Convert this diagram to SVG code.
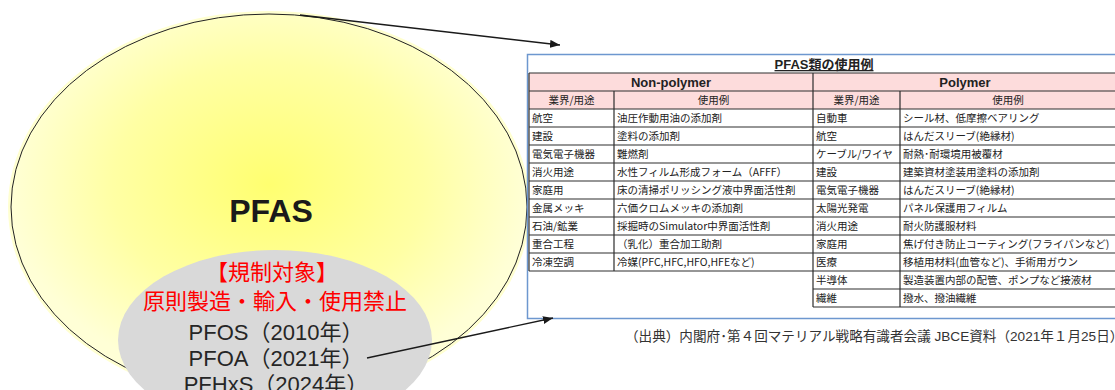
<svg xmlns="http://www.w3.org/2000/svg" width="1115" height="390" viewBox="0 0 1115 390">
<defs>
<radialGradient id="yel" cx="269" cy="185" r="260" gradientUnits="userSpaceOnUse" gradientTransform="translate(269 185) scale(1 0.78) translate(-269 -185)">
<stop offset="0" stop-color="#ffff70"/>
<stop offset="0.6" stop-color="#ffffa4"/>
<stop offset="1" stop-color="#ffffd6"/>
</radialGradient>
<marker id="arr" viewBox="0 0 10 8" refX="10" refY="4" markerWidth="10" markerHeight="8" markerUnits="userSpaceOnUse" orient="auto">
<path d="M0,0 L10,4 L0,8 z" fill="#1a1a1a"/>
</marker>
<style>
.cell{font-family:"Noto Sans CJK JP","Liberation Sans",sans-serif;font-size:10.5px;fill:#222}
.hd{font-family:"Noto Sans CJK JP","Liberation Sans",sans-serif;font-size:10.5px;fill:#222;text-anchor:middle}
.hb{font-family:"Liberation Sans","Noto Sans CJK JP",sans-serif;font-size:13px;font-weight:bold;fill:#222;text-anchor:middle}
.grid{stroke:#2e2e2e;stroke-width:1.2;fill:none}
.red{font-family:"Noto Sans CJK JP",sans-serif;font-size:22px;fill:#ff0000;text-anchor:middle}
.blk{font-family:"Liberation Sans","Noto Sans CJK JP",sans-serif;font-size:22px;fill:#262626;text-anchor:middle}
.cap{font-family:"Liberation Sans","Noto Sans CJK JP",sans-serif;font-size:13.6px;fill:#333}
.conn{stroke:#1a1a1a;stroke-width:1.3;fill:none}
</style>
</defs>
<rect width="1115" height="390" fill="#ffffff"/>

<g id="node-pfas">
<ellipse cx="269" cy="207" rx="261" ry="196" fill="#ffffd0"/>
<ellipse cx="269" cy="207" rx="258" ry="193" fill="url(#yel)" stroke="#222" stroke-width="1"/>
<text x="271" y="222" font-family="Liberation Sans, sans-serif" font-size="32" font-weight="bold" fill="#1a1a1a" text-anchor="middle">PFAS</text>
</g>

<g id="node-regulated">
<ellipse cx="275" cy="340" rx="157" ry="90" fill="#d9d9d9"/>
<text class="red" x="272" y="280">【規制対象】</text>
<text class="red" x="275" y="309">原則製造・輸入・使用禁止</text>
<text class="blk" x="276" y="340">PFOS（2010年）</text>
<text class="blk" x="276" y="366">PFOA（2021年）</text>
<text class="blk" x="276" y="392">PFHxS（2024年）</text>
</g>

<g id="node-table">
<rect x="527.5" y="54.5" width="600" height="264" fill="#ffffff" stroke="#6d97cf" stroke-width="1.5"/>
<text x="824" y="69" font-family="Liberation Sans, Noto Sans CJK JP, sans-serif" font-size="13" font-weight="bold" fill="#222" text-anchor="middle" text-decoration="underline">PFAS類の使用例</text>
<rect x="529" y="73" width="590" height="36" fill="#fddcdc"/>
<path class="grid" d="M529,73 H1120 M529,91 H1120 M529,109 H1120 M529,127 H1120 M529,145 H1120 M529,163 H1120 M529,181 H1120 M529,199 H1120 M529,217 H1120 M529,235 H1120 M529,253 H1120 M529,271 H1120 M813,289 H1120 M813,307 H1120 M529,73 V271 M614,91 V271 M813,73 V307 M900,91 V307"/>
<text class="hb" x="671" y="86.5">Non-polymer</text>
<text class="hb" x="965" y="86.5">Polymer</text>
<text class="hd" x="571.5" y="104">業界/用途</text>
<text class="hd" x="713.5" y="104">使用例</text>
<text class="hd" x="856.5" y="104">業界/用途</text>
<text class="hd" x="1008" y="104">使用例</text>
<g class="cell">
<text x="532" y="122">航空</text><text x="617" y="122">油圧作動用油の添加剤</text>
<text x="532" y="140">建設</text><text x="617" y="140">塗料の添加剤</text>
<text x="532" y="158">電気電子機器</text><text x="617" y="158">難燃剤</text>
<text x="532" y="176">消火用途</text><text x="617" y="176">水性フィルム形成フォーム（AFFF）</text>
<text x="532" y="194">家庭用</text><text x="617" y="194">床の清掃ポリッシング液中界面活性剤</text>
<text x="532" y="212">金属メッキ</text><text x="617" y="212">六価クロムメッキの添加剤</text>
<text x="532" y="230">石油/鉱業</text><text x="617" y="230">採掘時のSimulator中界面活性剤</text>
<text x="532" y="248">重合工程</text><text x="617" y="248">（乳化）重合加工助剤</text>
<text x="532" y="266">冷凍空調</text><text x="617" y="266">冷媒(PFC,HFC,HFO,HFEなど)</text>
<text x="816" y="122">自動車</text><text x="903" y="122">シール材、低摩擦ベアリング</text>
<text x="816" y="140">航空</text><text x="903" y="140">はんだスリーブ(絶縁材)</text>
<text x="816" y="158">ケーブル/ワイヤ</text><text x="903" y="158">耐熱･耐環境用被覆材</text>
<text x="816" y="176">建設</text><text x="903" y="176">建築資材塗装用塗料の添加剤</text>
<text x="816" y="194">電気電子機器</text><text x="903" y="194">はんだスリーブ(絶縁材)</text>
<text x="816" y="212">太陽光発電</text><text x="903" y="212">パネル保護用フィルム</text>
<text x="816" y="230">消火用途</text><text x="903" y="230">耐火防護服材料</text>
<text x="816" y="248">家庭用</text><text x="903" y="248">焦げ付き防止コーティング(フライパンなど)</text>
<text x="816" y="266">医療</text><text x="903" y="266">移植用材料(血管など)、手術用ガウン</text>
<text x="816" y="284">半導体</text><text x="903" y="284">製造装置内部の配管、ポンプなど接液材</text>
<text x="816" y="302">繊維</text><text x="903" y="302">撥水、撥油繊維</text>
</g>
</g>

<g id="caption">
<text class="cap" x="625" y="341">（出典）内閣府･第４回マテリアル戦略有識者会議 JBCE資料（2021年１月25日）</text>
</g>

<g id="connectors">
<path class="conn" d="M300,15 L560,45" marker-end="url(#arr)"/>
<path class="conn" d="M367,358 L553,318" marker-end="url(#arr)"/>
</g>
</svg>
